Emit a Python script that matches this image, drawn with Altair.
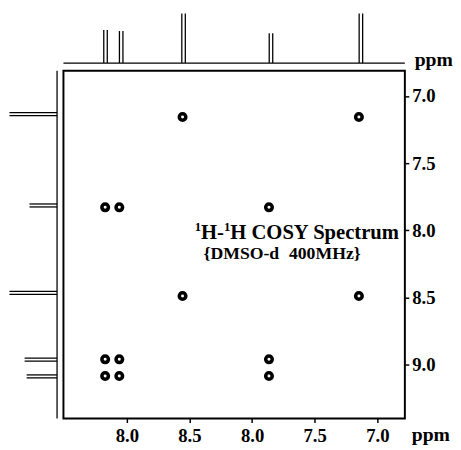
import json
import altair as alt
import pandas as pd

# ---------------- data (ppm) ----------------
x_tick_values = [9.0, 8.5, 8.0, 7.5, 7.0]
x_tick_labels = ["8.0", "8.5", "8.0", "7.5", "7.0"]
y_tick_values = [7.0, 7.5, 8.0, 8.5, 9.0]
y_tick_labels = ["7.0", "7.5", "8.0", "8.5", "9.0"]

# main frame (F2 horizontal, F1 vertical)
frame_x = [9.506, 6.780]
frame_y = [6.812, 9.400]
# whole drawing extent including the projections
extent_x = [6.780, 9.933]
extent_y = [6.3735, 9.400]

# top projection (1D spectrum along F2)
top_shift = [9.170, 9.045, 8.547, 7.849, 7.131]
top_height = [0.246, 0.238, 0.368, 0.221, 0.368]
top_baseline = 6.754
top_split = 0.028

# left projection (1D spectrum along F1)
left_shift = [7.134, 7.814, 8.464, 8.961, 9.086]
left_height = [0.380, 0.220, 0.380, 0.259, 0.243]
left_baseline = 9.557
left_split = 0.022

# cross / diagonal peaks
peak_f2 = [8.555, 7.147, 9.173, 9.060, 7.865, 8.555, 7.147,
           9.173, 9.060, 7.865, 9.173, 9.060, 7.865]
peak_f1 = [7.156, 7.156, 7.828, 7.828, 7.828, 8.488, 8.488,
           8.959, 8.959, 8.959, 9.083, 9.083, 9.083]

FONT = "Liberation Serif"

# ---------------- tables ----------------
xs = alt.Scale(domain=extent_x, reverse=True, nice=False, zero=False)
ys = alt.Scale(domain=extent_y, reverse=True, nice=False, zero=False)

frame_df = pd.DataFrame({"x": [frame_x[0]], "x2": [frame_x[1]],
                         "y": [frame_y[0]], "y2": [frame_y[1]]})

top_rows = []
for c, h in zip(top_shift, top_height):
    for s in (-0.5, 0.5):
        top_rows.append({"x": c + s * top_split, "y": top_baseline, "y2": top_baseline - h})
top_df = pd.DataFrame(top_rows)

left_rows = []
for c, h in zip(left_shift, left_height):
    for s in (-0.5, 0.5):
        left_rows.append({"y": c + s * left_split, "x": left_baseline, "x2": left_baseline + h})
left_df = pd.DataFrame(left_rows)

top_base_df = pd.DataFrame({"x": [frame_x[0]], "x2": [frame_x[1]], "y": [top_baseline]})
left_base_df = pd.DataFrame({"x": [left_baseline], "y": [frame_y[0]], "y2": [frame_y[1]]})

peaks_df = pd.DataFrame({"x": peak_f2, "y": peak_f1})

x_label_expr = f"{json.dumps(x_tick_labels)}[indexof({json.dumps(x_tick_values)}, datum.value)]"
y_label_expr = f"{json.dumps(y_tick_labels)}[indexof({json.dumps(y_tick_values)}, datum.value)]"

x_axis = alt.Axis(orient="bottom", values=x_tick_values, labelExpr=x_label_expr,
                  title=None, domain=False, grid=False, tickSize=4, tickWidth=1.5,
                  tickColor="black", labelColor="black", labelFont=FONT,
                  labelFontWeight="bold", labelFontSize=19, labelPadding=4)
y_axis = alt.Axis(orient="right", values=y_tick_values, labelExpr=y_label_expr,
                  title=None, domain=False, grid=False, tickSize=4, tickWidth=1.5,
                  tickColor="black", labelColor="black", labelFont=FONT,
                  labelFontWeight="bold", labelFontSize=19, labelPadding=3)

X = alt.X("x:Q", scale=xs, axis=x_axis)
Y = alt.Y("y:Q", scale=ys, axis=y_axis)

frame = alt.Chart(frame_df).mark_rect(filled=False, stroke="black", strokeWidth=2).encode(
    x=X, x2="x2:Q", y=Y, y2="y2:Q",
)
top_base = alt.Chart(top_base_df).mark_rule(color="black", strokeWidth=1.3).encode(
    x=X, x2="x2:Q", y=Y,
)
left_base = alt.Chart(left_base_df).mark_rule(color="black", strokeWidth=1.3).encode(
    x=X, y=Y, y2="y2:Q",
)
top_spec = alt.Chart(top_df).mark_rule(color="black", strokeWidth=1.3).encode(
    x=X, y=Y, y2="y2:Q",
)
left_spec = alt.Chart(left_df).mark_rule(color="black", strokeWidth=1.3).encode(
    x=X, x2="x2:Q", y=Y,
)
peaks = alt.Chart(peaks_df).mark_point(shape="circle", filled=False, size=44,
                                        strokeWidth=3.6, color="black", opacity=1).encode(
    x=X, y=Y,
)

def label(text, px, py, size):
    return alt.Chart(pd.DataFrame({"t": [text]})).mark_text(
        font=FONT, fontWeight="bold", fontSize=size, color="black",
        align="left", baseline="alphabetic",
    ).encode(text="t:N", x=alt.value(px), y=alt.value(py))

texts = [
    label("1", 188, 223, 13),
    label("H-", 194.5, 231.3, 21),
    label("1", 217.8, 223, 13),
    label("H COSY Spectrum", 224.3, 231.3, 21),
    label("{DMSO-d", 197, 252, 18),
    label("400MHz}", 284, 252, 18),
    label("ppm", 412, 54.7, 20),
    label("ppm", 409, 437, 20),
]

chart = alt.layer(frame, top_base, left_base, top_spec, left_spec, peaks, *texts).properties(
    width=402, height=414, padding=0, background="white",
).configure_view(stroke=None)

chart.save("out.html", embed_options={"renderer": "svg", "actions": False})
